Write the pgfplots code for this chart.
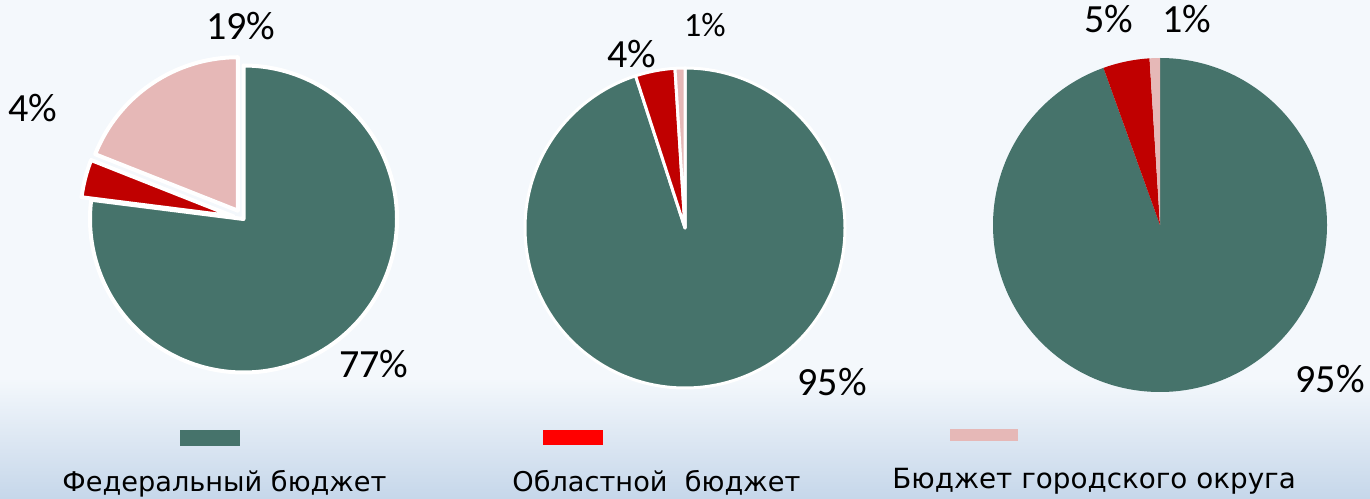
\documentclass[border=0pt]{standalone}
\usepackage{pgfplots}
\pgfplotsset{compat=1.18}
\usepackage{pgfplotstable}
\usepackage{fontspec}
\setmainfont{Carlito}
\newfontfamily\legfont{DejaVu Sans}
\usetikzlibrary{calc}

\definecolor{cgreen}{HTML}{46736B}
\definecolor{cred}{HTML}{C00000}
\definecolor{cpink}{HTML}{E6B8B7}
\definecolor{clegred}{HTML}{FF0000}
\definecolor{bgtop}{HTML}{F4F8FC}
\definecolor{bgbot}{HTML}{C6D7EA}

% shares in per cent, clockwise from 12 o'clock
% ex = explode (px), lab = printed label, lx/ly = label base (px from top left), fs = font size (pt)
\pgfplotstableread{
value colour ex lab lx  ly  fs
77    cgreen 0  77  374 378 20
4     cred   10 4   33  122 20
19    cpink  10 19  241 40  20
}\pieA
\pgfplotstableread{
value colour ex lab lx  ly  fs
95    cgreen 0  95  832 395 20
4     cred   0  4   632 68  20
1     cpink  0  1   705 37  17
}\pieB
\pgfplotstableread{
value colour ex lab lx   ly  fs
94.5  cgreen 0  95  1330 393 20
4.5   cred   0  5   1109 33  20
1.0   cpink  0  1   1187 33  20
}\pieC

% #1 table, #2 cx, #3 cy (px from top), #4 radius (px), #5 border style
\newcommand\drawpie[5]{%
  \pgfplotstablegetrowsof{#1}%
  \pgfmathtruncatemacro\lastrow{\pgfplotsretval-1}%
  \gdef\startang{90}%
  \pgfmathsetmacro\rr{#4*0.5}%
  \pgfmathsetmacro\cyy{498-#3}%
  \pgfplotsforeachungrouped \i in {0,...,\lastrow}{%
    \pgfplotstablegetelem{\i}{value}\of{#1}\let\val\pgfplotsretval
    \pgfplotstablegetelem{\i}{colour}\of{#1}\let\col\pgfplotsretval
    \pgfplotstablegetelem{\i}{ex}\of{#1}\let\ex\pgfplotsretval
    \pgfmathsetmacro\endang{\startang-3.6*\val}%
    \pgfmathsetmacro\midang{(\startang+\endang)/2}%
    \pgfmathsetmacro\exx{\ex*0.5}%
    \fill[\col, #5, line join=round]
      ($(axis cs:#2,\cyy)+(\midang:\exx pt)$) -- +(\startang:\rr pt)
      arc[start angle=\startang, end angle=\endang, radius=\rr pt] -- cycle;
    \global\let\startang\endang
  }%
  \pgfplotsforeachungrouped \i in {0,...,\lastrow}{%
    \pgfplotstablegetelem{\i}{lab}\of{#1}\let\lab\pgfplotsretval
    \pgfplotstablegetelem{\i}{lx}\of{#1}\let\lx\pgfplotsretval
    \pgfplotstablegetelem{\i}{ly}\of{#1}\let\ly\pgfplotsretval
    \pgfplotstablegetelem{\i}{fs}\of{#1}\let\fs\pgfplotsretval
    \pgfmathsetmacro\lyy{498-\ly}%
    \node[anchor=base, inner sep=0pt, font=\fontsize{\fs}{\fs}\selectfont]
      at (axis cs:\lx,\lyy) {\lab\%};
  }%
}

\begin{document}
\begin{tikzpicture}
\begin{axis}[
  width=685pt, height=249pt,
  scale only axis,
  xmin=0, xmax=1370, ymin=0, ymax=498,
  hide axis,
  clip=false,
]
% background
\pgfplotsextra{%
  \fill[bgtop] (axis cs:0,0) rectangle (axis cs:1370,498);
  \shade[top color=bgtop, bottom color=bgbot] (axis cs:0,0) rectangle (axis cs:1370,120);
}
% pies
\pgfplotsextra{\drawpie{\pieA}{243.5}{219}{153.5}{draw=white, line width=2pt}}
\pgfplotsextra{\drawpie{\pieB}{685}{228}{160}{draw=white, line width=1.5pt}}
\pgfplotsextra{\drawpie{\pieC}{1160}{225}{167}{draw=none}}
% legend
\pgfplotsextra{%
  \fill[cgreen]  (axis cs:180,52) rectangle (axis cs:240,68);
  \fill[clegred] (axis cs:543,53) rectangle (axis cs:603,68);
  \fill[cpink]   (axis cs:950,57) rectangle (axis cs:1018,69);
  \node[anchor=base west, inner sep=0pt, font=\legfont\fontsize{13.6}{16}\selectfont]
    at (axis cs:62,7) {Федеральный бюджет};
  \node[anchor=base west, inner sep=0pt, font=\legfont\fontsize{13.6}{16}\selectfont]
    at (axis cs:512,7) {Областной~~бюджет};
  \node[anchor=base west, inner sep=0pt, font=\legfont\fontsize{13.9}{16}\selectfont]
    at (axis cs:892,10) {Бюджет городского округа};
}
\end{axis}
\pgfresetboundingbox
\path (current axis.south west) rectangle (current axis.north east);
\end{tikzpicture}
\end{document}
